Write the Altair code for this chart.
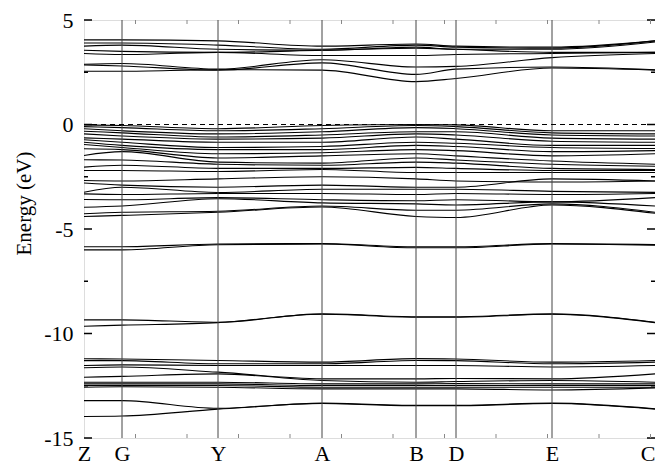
import altair as alt
import pandas as pd

# High-symmetry points and their positions along the k-path
kpoints = ["Z", "G", "Y", "A", "B", "D", "E", "C"]
kpos = [0.0, 0.38, 1.34, 2.38, 3.32, 3.72, 4.68, 5.71]

# Band energies (eV) at Z, G, Y, A, B, D, E, C
conduction = [
    [2.55, 2.55, 2.62, 2.60, 2.05, 2.20, 2.70, 2.60],
    [2.85, 2.80, 2.60, 2.95, 2.40, 2.65, 2.75, 2.62],
    [2.88, 2.92, 2.65, 3.10, 2.75, 2.78, 3.20, 3.40],
    [3.40, 3.35, 3.45, 3.30, 3.30, 3.35, 3.40, 3.45],
    [3.55, 3.50, 3.45, 3.55, 3.65, 3.60, 3.45, 3.45],
    [3.75, 3.80, 3.60, 3.55, 3.70, 3.60, 3.60, 3.95],
    [3.90, 3.90, 3.80, 3.60, 3.80, 3.70, 3.65, 4.00],
    [4.05, 4.05, 4.00, 3.75, 3.85, 3.75, 3.70, 4.00],
]
valence = [
    [-0.02, -0.05, -0.20, -0.05, 0.00, -0.02, -0.30, -0.30],
    [-0.10, -0.15, -0.30, -0.20, -0.05, -0.10, -0.40, -0.45],
    [-0.20, -0.30, -0.45, -0.35, -0.15, -0.20, -0.50, -0.55],
    [-0.32, -0.40, -0.60, -0.50, -0.35, -0.35, -0.65, -0.70],
    [-0.45, -0.55, -0.70, -0.65, -0.45, -0.50, -0.80, -0.85],
    [-0.64, -0.70, -0.85, -0.85, -0.60, -0.70, -1.00, -1.00],
    [-0.73, -0.85, -1.10, -1.05, -0.85, -0.90, -1.10, -1.15],
    [-0.85, -1.00, -1.20, -1.20, -1.00, -1.05, -1.30, -1.25],
    [-0.96, -1.10, -1.40, -1.35, -1.20, -1.25, -1.50, -1.40],
    [-1.16, -1.20, -1.60, -1.50, -1.40, -1.50, -1.75, -1.90],
    [-1.48, -1.30, -1.80, -1.85, -1.60, -1.70, -1.90, -2.00],
    [-1.69, -1.70, -1.90, -1.95, -1.80, -1.85, -2.10, -2.15],
    [-2.04, -1.95, -2.10, -2.10, -2.05, -2.10, -2.20, -2.20],
    [-2.20, -2.20, -2.25, -2.15, -2.30, -2.30, -2.30, -2.30],
    [-2.68, -2.70, -2.60, -2.50, -2.60, -2.70, -2.75, -2.70],
    [-2.80, -2.90, -3.00, -2.90, -3.00, -3.00, -2.60, -2.70],
    [-3.24, -3.00, -3.25, -3.10, -3.10, -3.10, -3.20, -3.25],
    [-3.32, -3.35, -3.30, -3.30, -3.35, -3.30, -3.35, -3.30],
    [-3.59, -3.60, -3.50, -3.60, -3.65, -3.60, -3.70, -3.50],
    [-3.96, -3.90, -3.55, -3.75, -3.80, -3.85, -3.70, -3.90],
    [-4.27, -4.20, -4.15, -3.90, -4.10, -4.10, -3.80, -4.20],
    [-4.40, -4.35, -4.20, -3.95, -4.40, -4.45, -3.85, -4.25],
]
semicore = [
    [-5.85, -5.85, -5.72, -5.70, -5.85, -5.85, -5.70, -5.75],
    [-6.00, -6.00, -5.75, -5.72, -5.90, -5.90, -5.72, -5.78],
    [-9.35, -9.35, -9.46, -9.06, -9.20, -9.20, -9.06, -9.46],
    [-9.65, -9.60, -9.48, -9.08, -9.22, -9.22, -9.08, -9.48],
]
deep = [
    [-11.21, -11.22, -11.29, -11.37, -11.20, -11.22, -11.37, -11.29],
    [-11.30, -11.30, -11.45, -11.45, -11.29, -11.30, -11.45, -11.37],
    [-11.53, -11.50, -11.53, -11.53, -11.53, -11.53, -11.60, -11.53],
    [-11.64, -11.60, -11.85, -12.17, -12.17, -12.15, -12.17, -11.93],
    [-12.09, -12.05, -11.93, -12.25, -12.33, -12.30, -12.25, -12.33],
    [-12.33, -12.33, -12.33, -12.41, -12.41, -12.40, -12.41, -12.41],
    [-12.41, -12.41, -12.41, -12.49, -12.49, -12.49, -12.49, -12.49],
    [-12.49, -12.49, -12.49, -12.57, -12.57, -12.57, -12.57, -12.57],
    [-12.57, -12.55, -12.57, -12.65, -12.65, -12.65, -12.70, -12.60],
    [-13.21, -13.21, -13.58, -13.33, -13.44, -13.44, -13.33, -13.60],
    [-13.97, -13.95, -13.62, -13.35, -13.46, -13.46, -13.35, -13.62],
]

major_y = [-15, -10, -5, 0, 5]
minor_y = [-12.5, -7.5, -2.5, 2.5]
top_ticks = [0.515, 1.03, 1.545, 2.06, 2.575, 3.09, 3.605, 4.12, 4.635, 5.15, 5.665]

rows = []
for gname, group in [("c", conduction), ("v", valence), ("s", semicore), ("d", deep)]:
    for bi, vals in enumerate(group):
        for k, e in zip(kpos, vals):
            rows.append({"band": f"{gname}{bi}", "k": k, "E": e})
bands_df = pd.DataFrame(rows)

W, H = 571, 418
FONT = "Liberation Serif"

label_expr = "[" + ",".join(f"'{p}'" for p in kpoints) + "][indexof([" + \
    ",".join(str(v) for v in kpos) + "], datum.value)]"

xscale = alt.Scale(domain=[kpos[0], kpos[-1]], nice=False, zero=False)
yscale = alt.Scale(domain=[-15, 5], nice=False, zero=False)

xaxis = alt.Axis(values=kpos, labelExpr=label_expr, tickSize=0, domain=False, grid=False,
                 labelFont=FONT, labelFontSize=22, labelPadding=5, labelFlush=False,
                 labelAlign={"condition": {"test": f"datum.value >= {kpos[-1]}", "value": "right"},
                             "value": "center"},
                 labelColor="black", title=None)
yaxis = alt.Axis(values=major_y, labelExpr="'' + datum.value", tickSize=0, domain=False,
                 grid=False, labelFont=FONT, labelFontSize=22, labelPadding=11,
                 labelColor="black", title="Energy (eV)", titleFont=FONT, titleFontSize=21,
                 titleFontWeight="normal", titleColor="black", titleAngle=270,
                 titleX=-60, titleY=183, titleAlign="center", titleBaseline="middle")

lines = alt.Chart(bands_df).mark_line(interpolate="monotone", color="black", strokeWidth=1.1).encode(
    x=alt.X("k:Q", scale=xscale, axis=xaxis),
    y=alt.Y("E:Q", scale=yscale, axis=yaxis),
    detail="band:N",
)

vdf = pd.DataFrame({"k": kpos[1:-1]})
vlines = alt.Chart(vdf).mark_rule(color="#444444", strokeWidth=1).encode(
    x=alt.X("k:Q", scale=xscale)
)

fermi = alt.Chart(pd.DataFrame({"E": [0]})).mark_rule(
    color="black", strokeWidth=1, strokeDash=[5, 4]
).encode(y=alt.Y("E:Q", scale=yscale))

maj_df = pd.DataFrame({"E": major_y})
min_df = pd.DataFrame({"E": minor_y})
lt_major = alt.Chart(maj_df).mark_rule(color="black", strokeWidth=1.5).encode(
    y=alt.Y("E:Q", scale=yscale), x=alt.value(0), x2=alt.value(8))
lt_minor = alt.Chart(min_df).mark_rule(color="black", strokeWidth=1.5).encode(
    y=alt.Y("E:Q", scale=yscale), x=alt.value(0), x2=alt.value(4))
rt_major = alt.Chart(maj_df).mark_rule(color="black", strokeWidth=1.5).encode(
    y=alt.Y("E:Q", scale=yscale), x=alt.value(W - 8), x2=alt.value(W))
rt_minor = alt.Chart(min_df).mark_rule(color="black", strokeWidth=1.5).encode(
    y=alt.Y("E:Q", scale=yscale), x=alt.value(W - 4), x2=alt.value(W))
tt = alt.Chart(pd.DataFrame({"k": top_ticks})).mark_rule(color="#888888", strokeWidth=1).encode(
    x=alt.X("k:Q", scale=xscale), y=alt.value(0), y2=alt.value(4))
bt = alt.Chart(pd.DataFrame({"k": top_ticks})).mark_rule(color="#888888", strokeWidth=1).encode(
    x=alt.X("k:Q", scale=xscale), y=alt.value(H - 4), y2=alt.value(H))

chart = alt.layer(lines, vlines, fermi, lt_major, lt_minor, rt_major, rt_minor, tt, bt).properties(
    width=W, height=H,
    autosize=alt.AutoSizeParams(type="none"),
    padding={"left": 76, "top": 12, "right": 0, "bottom": 27},
).configure_view(stroke="black", strokeWidth=1.6).configure(background="white")

chart.save("out.html", embed_options={"renderer": "svg", "actions": False})
